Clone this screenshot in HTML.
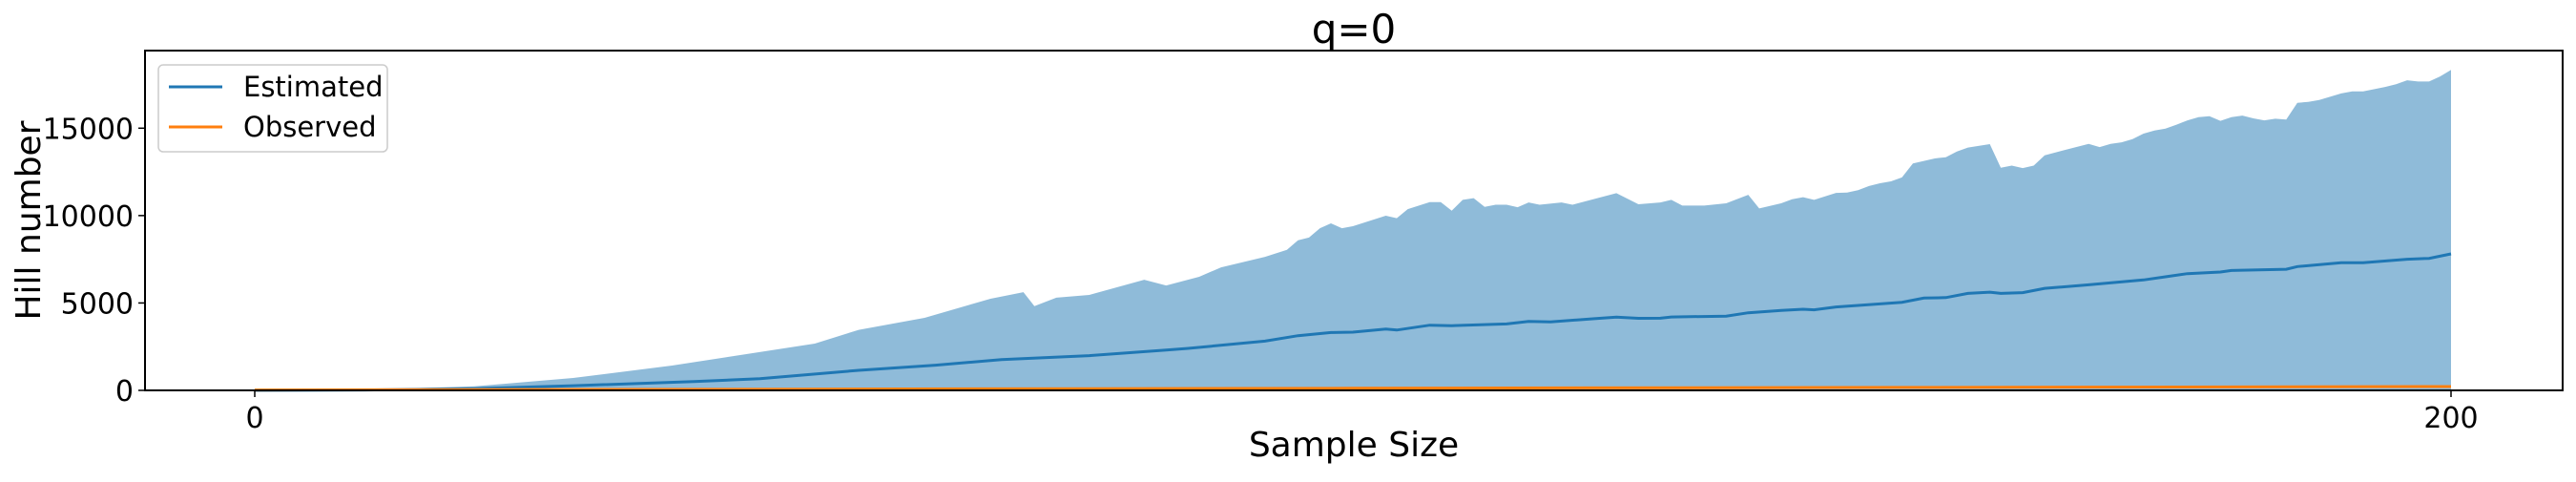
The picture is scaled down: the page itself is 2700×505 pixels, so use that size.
<!DOCTYPE html>
<html><head><meta charset="utf-8"><style>
html,body{margin:0;padding:0;background:#fff;}
svg text{font-family:"DejaVu Sans","Liberation Sans",sans-serif;}
</style></head><body>
<svg id="chart" width="2700" height="500" viewBox="0 0 2700 500" xmlns="http://www.w3.org/2000/svg">
<rect x="0" y="0" width="2700" height="500" fill="#fff"/>
<text x="1419" y="45" font-size="42" text-anchor="middle">q=0</text>
<g id="plot"></g>
<text x="1419" y="478" font-size="36" text-anchor="middle">Sample Size</text>
<text x="0" y="0" font-size="36" text-anchor="middle" transform="translate(42,231) rotate(-90)">Hill number</text>
<g>
<rect x="166" y="68" width="240" height="91" rx="5" fill="#fff" fill-opacity="0.8" stroke="#ccc" stroke-width="1.5"/>
<line x1="177" y1="91" x2="233" y2="91" stroke="#1f77b4" stroke-width="3"/>
<text x="255" y="101" font-size="29">Estimated</text>
<line x1="177" y1="133" x2="233" y2="133" stroke="#ff7f0e" stroke-width="3"/>
<text x="255" y="143" font-size="29">Observed</text>
</g>
</svg>
<script>
const bandSamples=[0,10,20,29,38,51,55,61,67,70,71,73,76,81,83,86,88,92,94,95,96,97,98,99,100,103,104,105,107,108,109,110,111,112,113,114,115,116,117,119,120,124,126,128,129,130,132,134,136,137,139,140,141,142,144,145,146,147,148,149,150,151,153,154,155,156,158,159,160,161,162,163,165,167,168,169,170,171,172,173,174,175,176,177,178,179,180,181,182,183,184,185,186,187,188,190,191,192,194,195,196,197,198,199,200];
const bandUpper=[0,40,230,710,1420,2675,3460,4150,5240,5620,4820,5300,5460,6330,6000,6500,7040,7640,8040,8590,8740,9280,9555,9280,9390,9990,9850,10370,10770,10770,10280,10900,11000,10500,10620,10620,10480,10750,10620,10750,10620,11280,10650,10750,10900,10570,10570,10700,11190,10410,10700,10940,11050,10900,11300,11320,11450,11690,11850,11960,12180,12980,13270,13340,13670,13890,14090,12740,12860,12720,12860,13450,13780,14100,13920,14100,14190,14370,14690,14870,14980,15200,15450,15630,15690,15420,15630,15720,15560,15450,15540,15490,16450,16500,16610,16990,17100,17100,17360,17520,17740,17670,17670,17960,18330];
const estSamples=[0,10,20,29,40,46,55,62,68,76,83,85,92,95,98,100,103,104,107,109,114,116,118,122,124,126,128,129,134,136,139,141,142,144,146,150,152,154,156,158,159,161,163,167,172,174,176,179,180,185,186,190,192,196,198,200];
const estValues=[0,20,100,270,500,670,1145,1440,1765,1985,2310,2400,2820,3130,3310,3330,3510,3450,3730,3700,3800,3950,3920,4100,4190,4120,4130,4200,4250,4440,4570,4640,4610,4770,4860,5040,5280,5310,5550,5620,5550,5590,5840,6040,6320,6500,6680,6770,6860,6930,7080,7300,7300,7500,7550,7810];
const obsSamples=[0,50,100,150,200];
const obsValues=[20,70,120,170,220];
const yTicks=[0,5000,10000,15000];
const xTicks=[0,200];

const NS='http://www.w3.org/2000/svg';
const L=152,R=2686,T=53,B=409;
const xs=s=>267+s*(2569-267)/200;
const ys=v=>409-v*(409-134.3)/15000;
const g=document.getElementById('plot');
function mk(tag,attrs){const e=document.createElementNS(NS,tag);for(const k in attrs)e.setAttribute(k,attrs[k]);g.appendChild(e);return e;}

let d='M'+xs(bandSamples[0])+','+ys(0);
bandSamples.forEach((s,i)=>{d+=' L'+xs(s).toFixed(1)+','+ys(bandUpper[i]).toFixed(1);});
d+=' L'+xs(bandSamples[bandSamples.length-1])+','+ys(0)+' Z';
const band=mk('path',{d:d,fill:'#1f77b4','fill-opacity':'0.5'});



const est=mk('polyline',{points:estSamples.map((s,i)=>xs(s).toFixed(1)+','+ys(estValues[i]).toFixed(1)).join(' '),fill:'none',stroke:'#1f77b4','stroke-width':3});


const obs=mk('polyline',{points:obsSamples.map((s,i)=>xs(s).toFixed(1)+','+ys(obsValues[i]).toFixed(1)).join(' '),fill:'none',stroke:'#ff7f0e','stroke-width':3});



const frame=mk('rect',{x:L,y:T,width:R-L,height:B-T,fill:'none',stroke:'#000','stroke-width':2});



yTicks.forEach(v=>{
  const t=mk('line',{x1:L-7,x2:L,y1:ys(v),y2:ys(v),stroke:'#000','stroke-width':1.5});
  
  
  const tx=mk('text',{x:L-12,y:ys(v)+11,'font-size':30,'text-anchor':'end'});
  tx.textContent=String(v);
  
  
});
xTicks.forEach(v=>{
  const t=mk('line',{x1:xs(v),x2:xs(v),y1:B,y2:B+7,stroke:'#000','stroke-width':1.5});
  
  
  const tx=mk('text',{x:xs(v),y:B+39,'font-size':30,'text-anchor':'middle'});
  tx.textContent=String(v);
  
  
});
</script>
</body></html>
